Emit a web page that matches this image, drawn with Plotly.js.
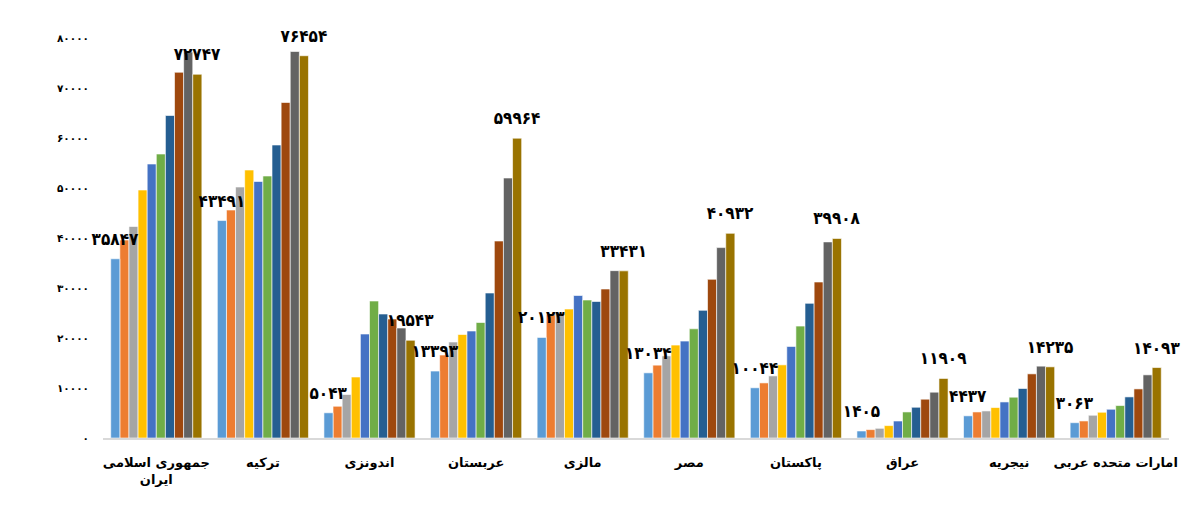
<!DOCTYPE html>
<html>
<head>
<meta charset="utf-8">
<script src="https://cdn.plot.ly/plotly-3.0.1.min.js"></script>
<style>
  html, body { margin: 0; padding: 0; background: #ffffff; }
  #chart { width: 1201px; height: 519px; }
</style>
</head>
<body>
<div id="chart"></div>
<script>
// countries, left to right
const countries = [
    'جمهوری اسلامی<br>ایران', 'ترکیه', 'اندونزی', 'عربستان', 'مالزی',
    'مصر', 'پاکستان', 'عراق', 'نیجریه', 'امارات متحده عربی'
];

// ten series, one value per country
const s1  = [35847, 43491,  5043, 13393, 20123, 13034, 10044,  1405,  4437,  3063];
const s2  = [39600, 45600,  6350, 16600, 24650, 14570, 11020,  1680,  5210,  3410];
const s3  = [42300, 50200,  8700, 19200, 25050, 16430, 12420,  1940,  5410,  4550];
const s4  = [49600, 53600, 12200, 20700, 25800, 18580, 14630,  2480,  6090,  5150];
const s5  = [54800, 51300, 20800, 21400, 28500, 19380, 18310,  3400,  7210,  5750];
const s6  = [56800, 52400, 27400, 23100, 27600, 21840, 22380,  5210,  8160,  6490];
const s7  = [64500, 58600, 24800, 29000, 27300, 25530, 26930,  6150,  9900,  8220];
const s8  = [73150, 67100, 23800, 39400, 29800, 31740, 31200,  7760, 12830,  9820];
const s9  = [77200, 77300, 22000, 52000, 33470, 38080, 39220,  9160, 14370, 12630];
const s10 = [72747, 76454, 19543, 59964, 33431, 40932, 39908, 11909, 14235, 14093];

const seriesValues = [s1, s2, s3, s4, s5, s6, s7, s8, s9, s10];
const seriesColors = [
    '#5B9BD5', '#ED7D31', '#A5A5A5', '#FFC000', '#4472C4',
    '#70AD47', '#255E91', '#9E480E', '#636363', '#997300'
];
const labelledSeries = [0, 9];   // first and last series carry value labels

const yTicks = [0, 10000, 20000, 30000, 40000, 50000, 60000, 70000, 80000];

const faDigits = '۰۱۲۳۴۵۶۷۸۹';
let toFa = (n) => String(n).replace(/[0-9]/g, d => faDigits[d]);

const FONT = 'DejaVu Sans, Noto Sans, sans-serif';
const LABEL_FONT = 'DejaVu Sans Condensed, DejaVu Sans, sans-serif';
const LABEL_LIFT = 7;   // extra gap between bar top and value label, px

let traces = seriesValues.map((vals, i) => {
    let trace = {
        type: 'bar',
        name: 'سری ' + toFa(i + 1),
        x: countries,
        y: vals,
        marker: {color: seriesColors[i], line: {color: 'rgba(255,255,255,0.6)', width: 1}},
        hoverinfo: 'y',
        cliponaxis: false,
    };
    if (labelledSeries.includes(i)) {
        trace.text = vals.map(v => toFa(v));
        trace.textposition = 'outside';
        trace.constraintext = 'none';
        trace.textfont = {family: LABEL_FONT, size: 17, color: '#000000', weight: 'bold'};
    }
    return trace;
});

let layout = {
    width: 1201,
    height: 519,
    margin: {l: 103, r: 32, t: 38, b: 81},
    paper_bgcolor: '#ffffff',
    plot_bgcolor: '#ffffff',
    showlegend: false,
    barmode: 'group',
    bargap: 0.145,
    bargroupgap: 0.0,
    font: {family: FONT, color: '#000000'},
    xaxis: {
        showgrid: false,
        zeroline: false,
        showline: true,
        linecolor: '#d9d9d9',
        linewidth: 1.5,
        ticks: '',
        ticklabelstandoff: 12,
        tickfont: {family: FONT, size: 13, color: '#000000', weight: 'bold'},
    },
    yaxis: {
        range: [0, 80000],
        showgrid: false,
        zeroline: false,
        showline: false,
        ticks: '',
        tickvals: yTicks,
        ticktext: yTicks.map(v => toFa(v)),
        ticklabelstandoff: 13,
        tickfont: {family: FONT, size: 10.5, color: '#000000', weight: 'bold'},
    },
};

Plotly.newPlot('chart', traces, layout, {displayModeBar: false, staticPlot: true})
.then(gd => {
    // bars of a group never overlap, so the first trace can go on top
    // to keep its labels from being covered by the neighbouring bars
    let layer = gd.querySelector('.barlayer');
    let first = layer.querySelector('.trace');
    layer.appendChild(first);

    gd.querySelectorAll('.barlayer .bartext').forEach(t => {
        let tr = t.getAttribute('transform') || '';
        t.setAttribute('transform', `translate(0,${-LABEL_LIFT}) ` + tr);
    });
});
</script>
</body>
</html>
